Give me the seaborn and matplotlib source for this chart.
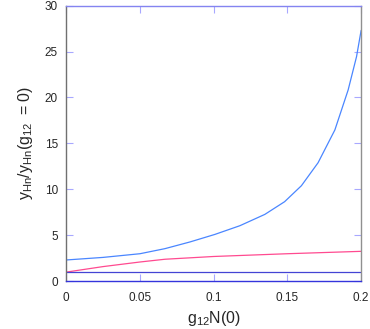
import matplotlib
matplotlib.use('Agg')
import matplotlib.pyplot as plt
import seaborn as sns
import pandas as pd

# values
x_blue = [0.0, 0.025, 0.05, 0.0669, 0.0839, 0.1008, 0.1178, 0.1347, 0.1481,
          0.1595, 0.1708, 0.1822, 0.1912, 0.1969, 0.2]
y_blue = [2.32, 2.6, 3.0, 3.55, 4.28, 5.1, 6.05, 7.28, 8.66,
          10.4, 12.9, 16.47, 20.82, 24.45, 27.3]

x_pink = [0.0, 0.025, 0.05, 0.067, 0.1, 0.125, 0.15, 0.175, 0.2]
y_pink = [1.0, 1.6, 2.1, 2.4, 2.7, 2.85, 3.0, 3.13, 3.26]

x_flat = [0.0, 0.2]
y_flat = [1.0, 1.0]

x_ticks = [0, 0.05, 0.1, 0.15, 0.2]
x_ticklabels = ['0', '0.05', '0.1', '0.15', '0.2']
y_ticks = [0, 5, 10, 15, 20, 25, 30]

sns.set_style('ticks')
plt.rcParams['font.family'] = ['Liberation Sans', 'DejaVu Sans']
plt.rcParams['mathtext.default'] = 'regular'

fig = plt.figure(figsize=(3.7, 3.29), dpi=100)
ax = fig.add_axes([0.179, 0.145, 0.797, 0.838])

sns.lineplot(data=pd.DataFrame({'x': x_blue, 'y': y_blue}), x='x', y='y',
             color='#4a86ff', lw=0.9, ax=ax)
sns.lineplot(data=pd.DataFrame({'x': x_pink, 'y': y_pink}), x='x', y='y',
             color='#ff4a90', lw=0.9, ax=ax)
sns.lineplot(data=pd.DataFrame({'x': x_flat, 'y': y_flat}), x='x', y='y',
             color='#4444d4', lw=0.9, ax=ax)

ax.set_xlim(0, 0.2)
ax.set_ylim(0, 30)
ax.set_xticks(x_ticks)
ax.set_xticklabels(x_ticklabels)
ax.set_yticks(y_ticks)

ax.tick_params(direction='in', length=5, width=0.8, color='#a8a8ff',
               top=True, right=True, labelsize=8.5, pad=6)
ax.tick_params(axis='x', pad=8)

ax.spines['left'].set_color('#707070')
ax.spines['right'].set_color('#909090')
ax.spines['top'].set_color('#8484f0')
ax.spines['bottom'].set_color('#3434dc')
for s in ax.spines.values():
    s.set_linewidth(1.0)

ax.set_xlabel(r'$g_{12}N(0)$', fontsize=11.5, labelpad=3)
ax.set_ylabel(r'$y_{Hn}/y_{Hn}(g_{12}\ =0)$', fontsize=11.5, labelpad=7)

fig.savefig('out.png', dpi=100)
